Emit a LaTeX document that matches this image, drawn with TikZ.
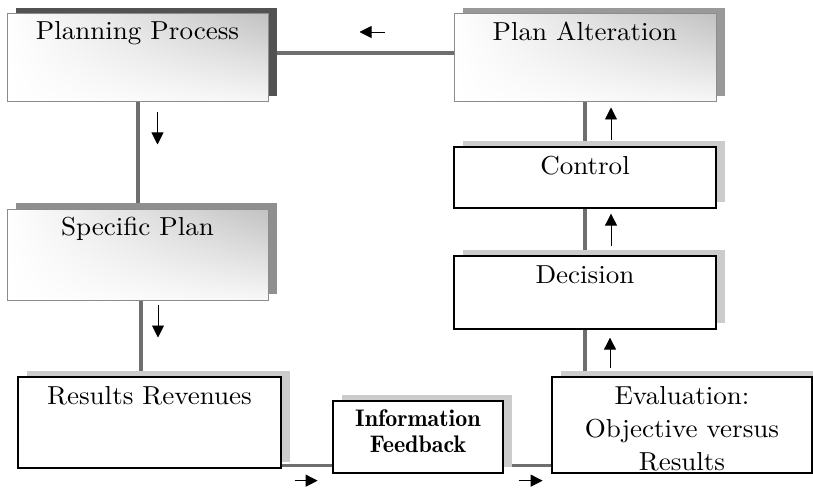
\documentclass[tikz,border=0pt]{standalone}
\usepackage{fontspec}
\setmainfont{Latin Modern Roman}
\newfontfamily\widefont{lmroman10-regular.otf}[BoldFont=lmroman10-bold.otf,FakeStretch=1.04]
\newfontfamily\demifont{lmromandemi10-regular.otf}
\usetikzlibrary{shadows,shadings,arrows.meta}
\pgfdeclarelayer{back}
\pgfsetlayers{back,main}
\begin{document}
\begin{tikzpicture}[x=1pt,y=-1pt,
  bigfont/.style={font=\widefont\fontsize{26}{33}\selectfont},
  smallbold/.style={font=\demifont\fontsize{24}{26}\selectfont},
  shadowed/.style={drop shadow={shadow xshift=8.5pt,shadow yshift=6pt,
      shadow scale=1,opacity=1,fill=#1}},
  plainbox/.style={rectangle,inner sep=0pt,draw=black,line width=1.3pt,
      fill=white,shadowed=black!20},
  glossbox/.style={rectangle,inner sep=0pt,draw=black!45,line width=1pt,shade,
      upper left=white,lower left=white,upper right=black!24,lower right=black!3},
  caption/.style={anchor=north,inner sep=0pt,align=center,bigfont},
  link/.style={draw=black!57,line width=4pt},
  pointer/.style={draw=black,line width=0.9pt,-{Triangle[width=12pt,length=12pt]}}
]
\useasboundingbox (0,0) rectangle (813,489);

% left column
\node[glossbox,shadowed=black!68,minimum width=261pt,minimum height=88pt,
  label={[caption,yshift=-8pt]north:Planning Process}] (plan) at (137.5,58) {};
\node[glossbox,shadowed=black!44,minimum width=261pt,minimum height=91pt,
  label={[caption,yshift=-8pt]north:Specific Plan}] (spec) at (137.5,254.5) {};
\node[plainbox,minimum width=263pt,minimum height=91pt,
  label={[caption,yshift=-10pt]north:Results Revenues}] (res) at (149.5,422.5) {};

% bottom middle
\node[plainbox,minimum width=170pt,minimum height=72pt,
  label={[caption,smallbold,yshift=-9.3pt]north:{Information\\Feedback}}] (info) at (418,437) {};

% right column
\node[glossbox,shadowed=black!40,minimum width=262pt,minimum height=88pt,
  label={[caption,yshift=-8pt]north:Plan Alteration}] (alter) at (585,58) {};
\node[plainbox,minimum width=262pt,minimum height=61pt,
  label={[caption,yshift=-10pt]north:Control}] (ctrl) at (585,177.5) {};
\node[plainbox,minimum width=262pt,minimum height=73pt,
  label={[caption,yshift=-10pt]north:Decision}] (dec) at (585,292.5) {};
\node[plainbox,minimum width=260pt,minimum height=96pt,
  label={[caption,yshift=-10pt]north:{Evaluation:\\Objective versus\\Results}}] (eval) at (682,425) {};

% connecting bars behind the boxes
\begin{pgfonlayer}{back}
  \draw[link] ([yshift=5pt]plan.east) -- ([yshift=5pt]alter.west);
  \draw[link] (plan.south) -- (spec.north);
  \coordinate (s2) at ([xshift=3.5pt]spec.south);
  \draw[link] (s2) -- (s2 |- res.north);
  \draw[link] (alter.south) -- (ctrl.north);
  \draw[link] (ctrl.south) -- (dec.north);
  \draw[link] (dec.south) -- (dec.south |- eval.north);
  \coordinate (fb) at ([yshift=3pt]res.south east);
  \draw[link,line width=3.5pt] (fb) -- (fb -| info.west);
  \draw[link,line width=3.5pt] (info.east |- fb) -- (eval.west |- fb);
\end{pgfonlayer}

% direction arrows
\coordinate (a1s) at ([shift={(20,10)}]plan.south);
\coordinate (a1e) at ([shift={(20,42)}]plan.south);
\draw[pointer] (a1s) -- (a1e);
\coordinate (a2s) at ([shift={(20.5,4)}]spec.south);
\coordinate (a2e) at ([shift={(20.5,37)}]spec.south);
\draw[pointer] (a2s) -- (a2e);
\coordinate (a3s) at ([shift={(-69,-26)}]alter.west);
\coordinate (a3e) at ([shift={(-94,-26)}]alter.west);
\draw[pointer] (a3s) -- (a3e);
\coordinate (a4s) at ([shift={(26,38)}]alter.south);
\coordinate (a4e) at ([shift={(26,5)}]alter.south);
\draw[pointer] (a4s) -- (a4e);
\coordinate (a5s) at ([shift={(26,37)}]ctrl.south);
\coordinate (a5e) at ([shift={(26,5)}]ctrl.south);
\draw[pointer] (a5s) -- (a5e);
\coordinate (a6s) at ([shift={(25,38)}]dec.south);
\coordinate (a6e) at ([shift={(25,8)}]dec.south);
\draw[pointer] (a6s) -- (a6e);
\coordinate (a7s) at ([shift={(13,12)}]res.south east);
\coordinate (a7e) at ([shift={(36,12)}]res.south east);
\draw[pointer] (a7s) -- (a7e);
\coordinate (a8s) at ([shift={(15,7)}]info.south east);
\coordinate (a8e) at ([shift={(39,7)}]info.south east);
\draw[pointer] (a8s) -- (a8e);
\end{tikzpicture}
\end{document}
